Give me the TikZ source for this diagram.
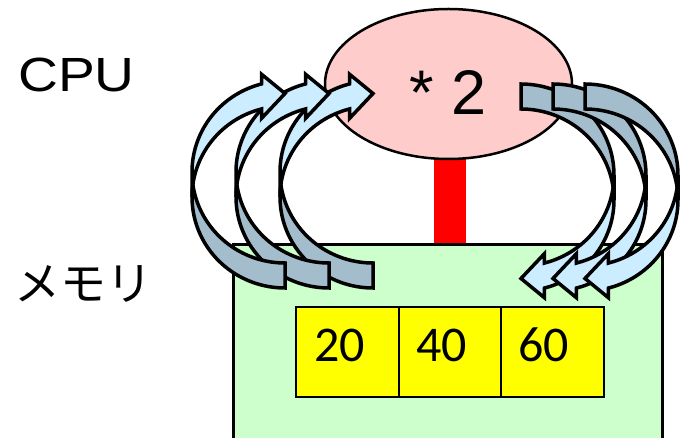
\documentclass[tikz,border=0pt]{standalone}
\usepackage{fontspec}
\setmainfont{Liberation Sans}
\newfontfamily\jpfont{Noto Sans CJK JP}
\newfontfamily\calfont{Carlito}
\usetikzlibrary{shapes.geometric}
\definecolor{arrowlight}{HTML}{CCECFF}
\definecolor{arrowdark}{HTML}{A3BDCC}
\definecolor{cpufill}{HTML}{FFCCCC}
\definecolor{memfill}{HTML}{CCFFCC}
\definecolor{cellfill}{HTML}{FFFF00}
\tikzset{
  arrowface/.style={fill=arrowlight, draw=black, line width=3.5pt},
  arrowback/.style={fill=arrowdark, draw=black, line width=3.5pt},
  cpushape/.style={ellipse, draw=black, fill=cpufill, line width=2.5pt, minimum width=247pt, minimum height=150pt, inner sep=0pt},
  membox/.style={draw=black, fill=memfill, line width=3pt},
  cellbox/.style={draw=black, fill=cellfill, line width=2pt, minimum width=103pt, minimum height=90pt, inner sep=0pt, anchor=north west},
  celltext/.style={font=\calfont\fontsize{50}{60}\selectfont, inner sep=0pt, anchor=base},
  bigtext/.style={inner sep=0pt}
}
\newcommand{\curvedarrowshape}{%
  \filldraw[arrowface] (0,91)
    -- plot[domain=180:104.6,samples=40] ({93+93*cos(\x)},{91+91*sin(\x)})
    -- (69.6,169.7) -- (93,194.5) -- (69.6,213.7) -- (69.6,204.2)
    -- plot[domain=104.6:180,samples=40] ({93+93*cos(\x)},{116+91*sin(\x)})
    -- cycle;
  \filldraw[arrowback] (93,25)
    -- plot[domain=270:187.9,samples=40] ({93+93*cos(\x)},{116+91*sin(\x)})
    -- plot[domain=172.1:270,samples=40] ({93+93*cos(\x)},{91+91*sin(\x)})
    -- cycle;
}
\begin{document}
\begin{tikzpicture}[x=1pt,y=-1pt]
\useasboundingbox (0,0) rectangle (681,438);
% red bus
\fill[red] (434,150) rectangle (466,247);
% memory box
\draw[membox] (233,245) rectangle (662,450);
% CPU ellipse
\node[cpushape] (cpu) at (448.5,84) {};
\node[bigtext, anchor=base west, font=\fontsize{63}{70}\selectfont] (op) at (409,115) {* 2};
% cells
\node[cellbox] (c1) at (295,306) {};
\node[cellbox] (c2) at (398,306) {};
\node[cellbox] (c3) at (500,306) {};
\node[celltext] (t1) at (339.5,362) {20};
\node[celltext] (t2) at (441.5,362) {40};
\node[celltext] (t3) at (543.5,362) {60};
% left arrows (memory -> CPU)
\begin{scope}[shift={(280,288)}, yscale=-1] \curvedarrowshape \end{scope}
\begin{scope}[shift={(236,288)}, yscale=-1] \curvedarrowshape \end{scope}
\begin{scope}[shift={(192,288)}, yscale=-1] \curvedarrowshape \end{scope}
% right arrows (CPU -> memory)
\begin{scope}[shift={(614,84)}, xscale=-1] \curvedarrowshape \end{scope}
\begin{scope}[shift={(646,84)}, xscale=-1] \curvedarrowshape \end{scope}
\begin{scope}[shift={(678,84)}, xscale=-1] \curvedarrowshape \end{scope}
% labels
\node[bigtext, anchor=base west] (cpulabel) at (18,92) {\scalebox{1.15}[1]{\fontsize{48}{56}\selectfont CPU}};
\node[bigtext, anchor=center, font=\jpfont\fontsize{46}{54}\selectfont] (memlabel) at (83.5,283.5) {メモリ};
\end{tikzpicture}
\end{document}
